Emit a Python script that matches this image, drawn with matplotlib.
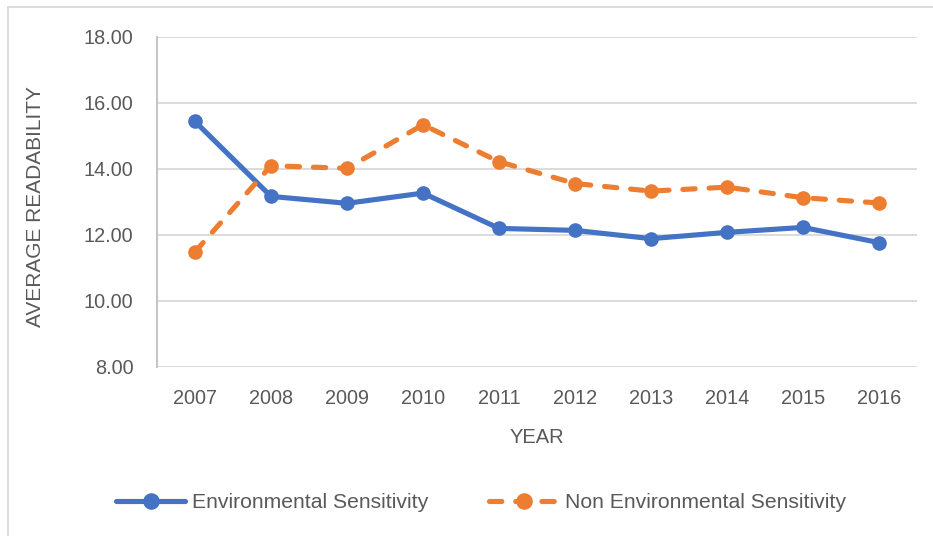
import matplotlib.pyplot as plt
from matplotlib.lines import Line2D

years = ['2007', '2008', '2009', '2010', '2011', '2012', '2013', '2014', '2015', '2016']
env = [15.44, 13.17, 12.96, 13.27, 12.20, 12.14, 11.89, 12.08, 12.23, 11.77]
non_env = [11.49, 14.10, 14.02, 15.34, 14.22, 13.56, 13.33, 13.45, 13.13, 12.97]
yticks = [8, 10, 12, 14, 16, 18]

plt.rcParams['font.family'] = ['Liberation Sans', 'DejaVu Sans']
txt = '#595959'
grid = '#D9D9D9'

fig = plt.figure(figsize=(9.33, 5.36), dpi=100)
ax = fig.add_axes([157/933, 1-367/536, 760/933, 330/536])

x = list(range(len(years)))
ax.plot(x, env, color='#4472C4', lw=3.7, marker='o', ms=9.5,
        solid_capstyle='round', label='Environmental Sensitivity', zorder=3)
ax.plot(x, non_env, color='#ED7D31', lw=3.7, marker='o', ms=9.5,
        linestyle=(0, (2.4, 2.7)), dash_capstyle='round',
        label='Non Environmental Sensitivity', zorder=3)

ax.set_xlim(-0.5, 9.5)
ax.set_ylim(8, 18)
ax.set_yticks(yticks)
ax.set_yticklabels(['%.2f' % v for v in yticks])
ax.set_xticks(x)
ax.set_xticklabels(years)
ax.yaxis.grid(True, color=grid, lw=1.3)
ax.set_axisbelow(True)
for s in ['top', 'right', 'bottom']:
    ax.spines[s].set_visible(False)
ax.spines['left'].set_color('#BFBFBF')
ax.spines['left'].set_linewidth(1.3)
ax.tick_params(length=0, labelsize=14.3, labelcolor=txt)
ax.tick_params(axis='y', pad=17)
ax.tick_params(axis='x', pad=16)

ax.set_xlabel('YEAR', fontsize=14.5, color=txt, labelpad=14)
ax.set_ylabel('AVERAGE READABILITY', fontsize=15, color=txt)
ax.yaxis.set_label_coords(-0.147, 0.485)

fig.legend(loc='center', bbox_to_anchor=(481/933, 1-503/536), ncol=2,
           frameon=False, fontsize=15.2, labelcolor=txt, handlelength=3.3,
           handletextpad=0.3, columnspacing=2.9, markerscale=1.15)

# outer chart border (cropped at right and bottom)
fig.add_artist(Line2D([8/933, 8/933], [0, 1-7/536], transform=fig.transFigure, color=grid, lw=1.3))
fig.add_artist(Line2D([8/933, 1], [1-7/536, 1-7/536], transform=fig.transFigure, color=grid, lw=1.3))

fig.savefig('out.png', dpi=100)
